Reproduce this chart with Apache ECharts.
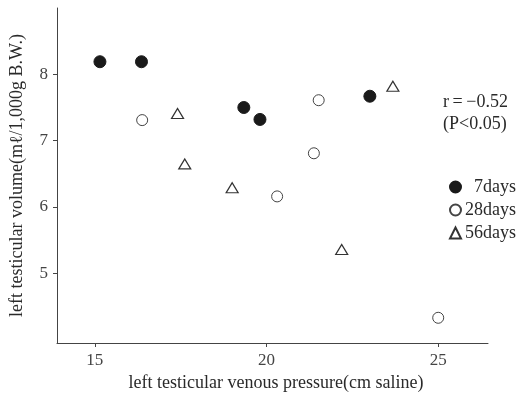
<!DOCTYPE html>
<html><head><meta charset="utf-8">
<script src="https://cdn.jsdelivr.net/npm/echarts@6/dist/echarts.min.js"></script>
<style>html,body{margin:0;padding:0;background:#fff}#c{width:518px;height:405px}</style>
</head><body><div id="c"></div>
<script>
var seriesNames = ['7days', '28days', '56days'];
var days7 = [[15.15, 8.19], [16.36, 8.19], [19.34, 7.50], [19.81, 7.32], [23.01, 7.67]];
var days28 = [[16.38, 7.31], [21.52, 7.61], [21.38, 6.81], [20.31, 6.16], [25.0, 4.33]];
var days56 = [[17.41, 7.41], [17.62, 6.65], [19.0, 6.29], [22.19, 5.36], [23.68, 7.82]];
var xTicks = [15, 20, 25];
var yTicks = [5, 6, 7, 8];
var xTitle = 'left testicular venous pressure(cm saline)';
var yTitle = 'left testicular volume(m\u2113/1,000g B.W.)';
var statLines = ['r\u2009=\u2009\u22120.52', '(P<0.05)'];

var font = '"Liberation Serif", "DejaVu Serif", serif';
var ink = '#2a2a2a';
var chart = echarts.init(document.getElementById('c'), null, {renderer: 'canvas'});
chart.setOption({
  animation: false,
  backgroundColor: '#fff',
  grid: {left: 57, top: 8, right: 30, bottom: 62},
  xAxis: {
    type: 'value', min: 13.9, max: 26.45,
    splitLine: {show: false},
    axisLine: {lineStyle: {color: '#444', width: 1}},
    axisTick: {show: true, length: 4, customValues: xTicks, lineStyle: {color: '#444'}},
    axisLabel: {customValues: xTicks, fontFamily: font, fontSize: 17, color: '#444', margin: 9},
    name: xTitle, nameLocation: 'middle', nameGap: 31,
    nameTextStyle: {fontFamily: font, fontSize: 18, color: ink, padding: [0, 0, 0, 7]}
  },
  yAxis: {
    type: 'value', min: 3.95, max: 9.0,
    splitLine: {show: false},
    axisLine: {show: true, lineStyle: {color: '#444', width: 1}},
    axisTick: {show: true, length: 4, customValues: yTicks, lineStyle: {color: '#444'}},
    axisLabel: {customValues: yTicks, fontFamily: font, fontSize: 17, color: '#444', margin: 9},
    name: yTitle, nameLocation: 'middle', nameGap: 31, nameRotate: 90,
    nameTextStyle: {fontFamily: font, fontSize: 18, color: ink}
  },
  legend: {
    orient: 'vertical', left: 444, top: 173, itemGap: 5,
    itemWidth: 11, itemHeight: 11,
    data: seriesNames,
    formatter: function (n) { return n === '7days' ? '\u2007' + n : n; },
    textStyle: {fontFamily: font, fontSize: 18, color: ink, padding: [0, 0, 0, -1]}
  },
  graphic: [
    {type: 'text', left: 443, top: 93, style: {text: statLines[0], font: '18px ' + font, fill: ink}},
    {type: 'text', left: 443, top: 115, style: {text: statLines[1], font: '18px ' + font, fill: ink}}
  ],
  series: [
    {name: seriesNames[0], type: 'scatter', data: days7, symbol: 'circle', symbolSize: 12,
     itemStyle: {color: '#1a1a1a', borderColor: '#1a1a1a', borderWidth: 1, opacity: 1}},
    {name: seriesNames[1], type: 'scatter', data: days28, symbol: 'circle', symbolSize: 11,
     itemStyle: {color: '#fff', borderColor: '#444', borderWidth: 1, opacity: 1}},
    {name: seriesNames[2], type: 'scatter', data: days56, symbol: 'triangle', symbolSize: [12, 10],
     itemStyle: {color: '#fff', borderColor: '#333', borderWidth: 1.2, opacity: 1}}
  ]
});
</script></body></html>
